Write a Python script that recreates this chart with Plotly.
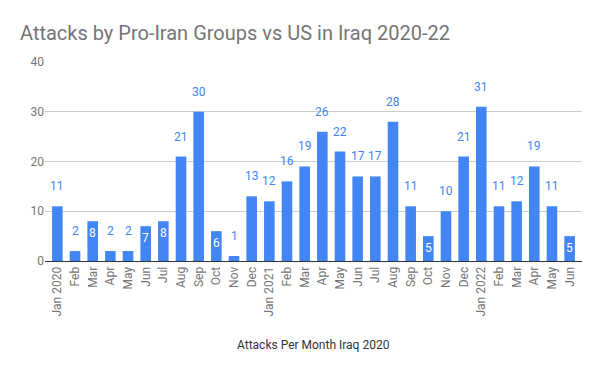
import plotly.graph_objects as go

tick_labels = ["Jan 2020", "Feb", "Mar", "Apr", "May", "Jun", "Jul", "Aug", "Sep", "Oct", "Nov", "Dec",
               "Jan 2021", "Feb", "Mar", "Apr", "May", "Jun", "Jul", "Aug", "Sep", "Oct", "Nov", "Dec",
               "Jan 2022", "Feb", "Mar", "Apr", "May", "Jun"]
attacks = [11, 2, 8, 2, 2, 7, 8, 21, 30, 6, 1, 13,
           12, 16, 19, 26, 22, 17, 17, 28, 11, 5, 10, 21,
           31, 11, 12, 19, 11, 5]
label_inside = [False, False, True, False, False, True, True, False, False, True, False, False,
                False, False, False, False, False, False, False, False, False, True, False, False,
                False, False, False, False, False, True]

x = list(range(len(attacks)))
BLUE = "#4285F4"
FONT = "Roboto, Arial, sans-serif"

# the page body has an 8px margin, so the figure is drawn 8px in from the top-left
W, H = 592, 363

fig = go.Figure()
fig.add_trace(go.Bar(x=x, y=attacks, marker=dict(color=BLUE, line=dict(width=0)),
                     width=0.6, hoverinfo="skip"))

annotations = []
for xi, v, inside in zip(x, attacks, label_inside):
    annotations.append(dict(
        x=xi, y=v, xref="x", yref="y", text=str(v), showarrow=False,
        yanchor="middle", yshift=-12 if inside else 20,
        font=dict(family=FONT, size=12, color="white" if inside else BLUE)))

annotations.append(dict(
    x=0.5, y=-84 / 199, xref="paper", yref="paper", text="Attacks Per Month Iraq 2020",
    showarrow=False, yanchor="middle", xanchor="center",
    font=dict(family=FONT, size=12, color="#333333")))

fig.update_layout(
    width=W, height=H,
    margin=dict(l=37, r=18, t=54, b=110, autoexpand=False),
    paper_bgcolor="white", plot_bgcolor="white",
    showlegend=False,
    title=dict(text="Attacks by Pro-Iran Groups vs US in Iraq 2020-22",
               x=12 / W, xanchor="left", xref="container",
               y=1 - 25 / H, yanchor="middle", yref="container",
               font=dict(family=FONT, size=20, color="#757575")),
    xaxis=dict(range=[-0.7, len(attacks) - 0.3], tickmode="array", tickvals=x, ticktext=tick_labels,
               tickangle=-90, tickfont=dict(family=FONT, size=12, color="#757575"),
               showgrid=False, showline=True, linecolor="#333333", linewidth=1,
               ticks="", automargin=False, fixedrange=True),
    yaxis=dict(range=[0, 40], tickvals=[0, 10, 20, 30, 40],
               tickfont=dict(family=FONT, size=12, color="#757575"),
               showgrid=True, gridcolor="#cccccc", gridwidth=1, zeroline=False,
               ticks="", automargin=False, fixedrange=True),
    annotations=annotations,
)

fig.write_html("out.html")
